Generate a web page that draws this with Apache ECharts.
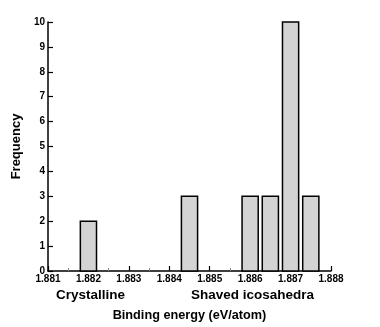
<!DOCTYPE html>
<html>
<head>
<meta charset="utf-8">
<script src="https://cdn.jsdelivr.net/npm/echarts@6/dist/echarts.min.js"></script>
<style>
  html, body { margin: 0; padding: 0; background: #fff; }
  #chart { width: 380px; height: 327px; }
</style>
</head>
<body>
<div id="chart"></div>
<script>
  // histogram bins: left edge, right edge, count
  var binLo = [1.8818, 1.8843, 1.8858, 1.8863, 1.8868, 1.8873];
  var binHi = [1.8822, 1.8847, 1.8862, 1.8867, 1.8872, 1.8877];
  var counts = [2, 3, 3, 3, 10, 3];
  var groupLabels = ['Crystalline', 'Shaved icosahedra'];

  var chart = echarts.init(document.getElementById('chart'));
  var font = 'Liberation Sans, Arial, Helvetica, sans-serif';

  var data = counts.map(function (c, i) { return [binLo[i], binHi[i], c]; });

  chart.setOption({
    animation: false,
    grid: { left: 48, right: 49, top: 22, bottom: 55 },
    xAxis: {
      type: 'value',
      min: 1.881,
      max: 1.888,
      interval: 0.001,
      name: 'Binding energy (eV/atom)',
      nameLocation: 'middle',
      nameGap: 38,
      nameTextStyle: { fontFamily: font, fontWeight: 'bold', fontSize: 12.7, color: '#000' },
      axisLine: { lineStyle: { color: '#000', width: 1.5 } },
      axisTick: { inside: true, length: 5, lineStyle: { color: '#000', width: 1.2 } },
      minorTick: { show: true, splitNumber: 2, length: 3, lineStyle: { color: '#888', width: 1 } },
      splitLine: { show: false },
      axisLabel: {
        fontFamily: font, fontWeight: 'bold', fontSize: 10, color: '#000', margin: 3,
        formatter: function (v) { return v.toFixed(3); }
      }
    },
    yAxis: {
      type: 'value',
      min: 0,
      max: 10,
      interval: 1,
      name: 'Frequency',
      nameLocation: 'middle',
      nameGap: 22,
      nameTextStyle: { fontFamily: font, fontWeight: 'bold', fontSize: 13, color: '#000' },
      axisLine: { show: true, lineStyle: { color: '#000', width: 1.5 } },
      axisTick: { show: true, inside: true, length: 5, lineStyle: { color: '#000', width: 1.2 } },
      splitLine: { show: false },
      axisLabel: { fontFamily: font, fontWeight: 'bold', fontSize: 10, color: '#000', margin: 3 }
    },
    series: [{
      type: 'custom',
      data: data,
      encode: { x: [0, 1], y: 2 },
      renderItem: function (params, api) {
        var p0 = api.coord([api.value(0), api.value(2)]);
        var p1 = api.coord([api.value(1), 0]);
        return {
          type: 'rect',
          shape: { x: p0[0], y: p0[1], width: p1[0] - p0[0], height: p1[1] - p0[1] },
          style: { fill: '#d3d3d3', stroke: '#000', lineWidth: 1.5 }
        };
      }
    }],
    graphic: [
      {
        type: 'text', left: 56, top: 288,
        style: { text: groupLabels[0], fontFamily: font, fontWeight: 'bold', fontSize: 13.5, fill: '#000' }
      },
      {
        type: 'text', left: 191, top: 288,
        style: { text: groupLabels[1], fontFamily: font, fontWeight: 'bold', fontSize: 13.5, fill: '#000' }
      }
    ]
  });
</script>
</body>
</html>
